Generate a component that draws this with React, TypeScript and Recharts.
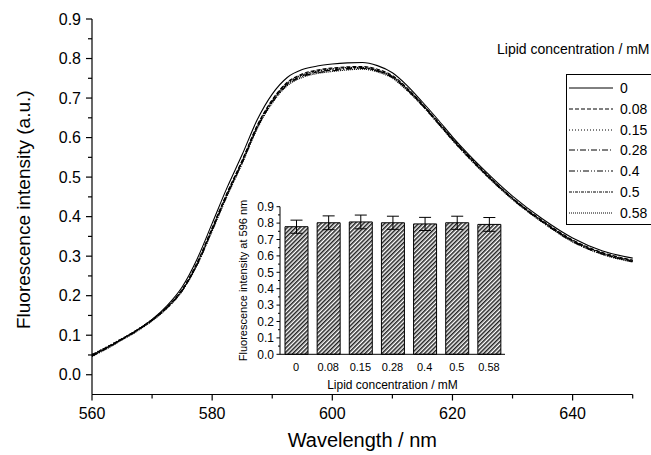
import React from 'react';
import { LineChart, Line, XAxis, YAxis, BarChart, Bar, ErrorBar, Legend, Label } from 'recharts';

// ---------- data ----------
const wavelengths = [560, 562.5, 565, 567.5, 570, 572.5, 575, 577.5, 580, 582.5, 585, 587.5, 590, 592.5, 595, 597.5, 600, 602.5, 605, 607.5, 610, 612.5, 615, 617.5, 620, 625, 630, 635, 640, 645, 650];
const conc0 = [0.048, 0.068, 0.09, 0.113, 0.14, 0.175, 0.222, 0.293, 0.383, 0.474, 0.557, 0.645, 0.71, 0.752, 0.772, 0.781, 0.786, 0.789, 0.79, 0.782, 0.764, 0.731, 0.69, 0.647, 0.602, 0.522, 0.452, 0.394, 0.346, 0.313, 0.295];
const conc008 = [0.05, 0.07, 0.091, 0.113, 0.139, 0.172, 0.216, 0.284, 0.372, 0.461, 0.543, 0.631, 0.696, 0.74, 0.761, 0.771, 0.776, 0.779, 0.78, 0.773, 0.757, 0.725, 0.685, 0.642, 0.598, 0.518, 0.447, 0.39, 0.341, 0.309, 0.29];
const conc015 = [0.052, 0.071, 0.092, 0.114, 0.14, 0.171, 0.214, 0.281, 0.369, 0.458, 0.54, 0.628, 0.693, 0.737, 0.758, 0.768, 0.773, 0.777, 0.778, 0.771, 0.755, 0.723, 0.684, 0.64, 0.596, 0.516, 0.446, 0.388, 0.339, 0.307, 0.288];
const conc028 = [0.047, 0.067, 0.089, 0.111, 0.137, 0.169, 0.212, 0.279, 0.367, 0.456, 0.538, 0.626, 0.691, 0.735, 0.756, 0.766, 0.771, 0.775, 0.776, 0.769, 0.753, 0.721, 0.682, 0.639, 0.595, 0.515, 0.445, 0.387, 0.338, 0.306, 0.287];
const conc04 = [0.049, 0.069, 0.09, 0.112, 0.138, 0.17, 0.213, 0.278, 0.365, 0.454, 0.536, 0.624, 0.689, 0.733, 0.754, 0.764, 0.769, 0.773, 0.775, 0.768, 0.752, 0.72, 0.681, 0.638, 0.594, 0.514, 0.444, 0.386, 0.337, 0.305, 0.286];
const conc05 = [0.051, 0.07, 0.091, 0.113, 0.139, 0.171, 0.215, 0.282, 0.37, 0.459, 0.541, 0.629, 0.694, 0.738, 0.759, 0.769, 0.774, 0.777, 0.777, 0.77, 0.754, 0.722, 0.683, 0.64, 0.597, 0.517, 0.446, 0.388, 0.34, 0.308, 0.289];
const conc058 = [0.046, 0.066, 0.088, 0.11, 0.136, 0.168, 0.211, 0.277, 0.363, 0.452, 0.534, 0.622, 0.687, 0.731, 0.752, 0.762, 0.767, 0.771, 0.773, 0.766, 0.75, 0.718, 0.68, 0.637, 0.593, 0.513, 0.443, 0.385, 0.336, 0.304, 0.285];

const seriesNames = ['0', '0.08', '0.15', '0.28', '0.4', '0.5', '0.58'];
const seriesValues = [conc0, conc008, conc015, conc028, conc04, conc05, conc058];

const xTicks = [560, 570, 580, 590, 600, 610, 620, 630, 640, 650];
const yTicks = [0, 0.05, 0.1, 0.15, 0.2, 0.25, 0.3, 0.35, 0.4, 0.45, 0.5, 0.55, 0.6, 0.65, 0.7, 0.75, 0.8, 0.85, 0.9];

const insetCategories = ['0', '0.08', '0.15', '0.28', '0.4', '0.5', '0.58'];
const insetValues = [0.778, 0.802, 0.807, 0.802, 0.795, 0.802, 0.792];
const insetErrors = [0.04, 0.042, 0.042, 0.04, 0.04, 0.04, 0.042];
const insetYTicks = [0, 0.05, 0.1, 0.15, 0.2, 0.25, 0.3, 0.35, 0.4, 0.45, 0.5, 0.55, 0.6, 0.65, 0.7, 0.75, 0.8, 0.85, 0.9];

// ---------- styles ----------
const dashStyles = ['', '4 2', '1 2', '6 2 1 2', '6 2 1 2 1 2', '3 1 1 1', '1 1'];
const FONT = '"Liberation Sans", Arial, sans-serif';

const lineData = wavelengths.map((wl, i) => {
  const row: any = { wl };
  seriesValues.forEach((arr, k) => { row['s' + k] = arr[i]; });
  return row;
});

const insetData = insetCategories.map((c, i) => ({ c, v: insetValues[i], err: insetErrors[i] }));

const isMajorY = (v: number) => Math.round(v * 100) % 10 === 0;

const MainXTick = (props: any) => {
  const { x, y, payload } = props;
  const v = payload.value;
  const major = v % 20 === 0;
  return (
    <g>
      <line x1={x} y1={y} x2={x} y2={y + (major ? 6 : 4)} stroke="#000" strokeWidth={1.2} />
      {major && v !== 650 ? (
        <text x={x} y={y + 24} textAnchor="middle" fontSize={16} fontFamily={FONT} fill="#000">{v}</text>
      ) : null}
    </g>
  );
};

const MainYTick = (props: any) => {
  const { x, y, payload } = props;
  const v = payload.value;
  const major = isMajorY(v);
  return (
    <g>
      <line x1={x} y1={y} x2={x - (major ? 6 : 4)} y2={y} stroke="#000" strokeWidth={1.2} />
      {major ? (
        <text x={x - 11} y={y} dy="0.36em" textAnchor="end" fontSize={16} fontFamily={FONT} fill="#000">{v.toFixed(1)}</text>
      ) : null}
    </g>
  );
};

const InsetXTick = (props: any) => {
  const { x, y, payload } = props;
  return (
    <text x={x} y={y + 17} textAnchor="middle" fontSize={11} fontFamily={FONT} fill="#000">{payload.value}</text>
  );
};

const InsetYTick = (props: any) => {
  const { x, y, payload } = props;
  const v = payload.value;
  const major = isMajorY(v);
  return (
    <g>
      <line x1={x} y1={y} x2={x - (major ? 3.5 : 2)} y2={y} stroke="#000" strokeWidth={1} />
      {major ? (
        <text x={x - 6} y={y} dy="0.36em" textAnchor="end" fontSize={12} fontFamily={FONT} fill="#000">{v.toFixed(1)}</text>
      ) : null}
    </g>
  );
};

const renderLegend = () => (
  <div style={{ position: 'relative', width: 200, height: 200, fontFamily: FONT, color: '#000' }}>
    <div style={{ position: 'absolute', left: 0, top: 3, fontSize: 14, whiteSpace: 'nowrap', lineHeight: '16px' }}>
      Lipid concentration / mM
    </div>
    <div style={{ position: 'absolute', left: 69, top: 36, width: 120, height: 151, border: '1px solid #000', boxSizing: 'border-box', background: '#fff' }}>
      {seriesNames.map((name, k) => (
        <div key={name} style={{ position: 'absolute', left: 0, top: 3 + k * 20.8, height: 20, width: 100 }}>
          <svg width={48} height={20} style={{ position: 'absolute', left: 1, top: 0 }}>
            <line x1={1} y1={10} x2={45} y2={10} stroke="#000" strokeWidth={1} strokeDasharray={dashStyles[k] || undefined} />
          </svg>
          <span style={{ position: 'absolute', left: 53, top: 1, fontSize: 14, lineHeight: '18px' }}>{name}</span>
        </div>
      ))}
    </div>
  </div>
);

export default function App() {
  return (
    <div style={{ position: 'absolute', left: 0, top: 0, width: 651, height: 455, overflow: 'hidden', background: '#fff' }}>
      <svg width={0} height={0} style={{ position: 'absolute' }}>
        <defs>
          <pattern id="hatch" patternUnits="userSpaceOnUse" width={3} height={3} patternTransform="rotate(45)">
            <rect width={3} height={3} fill="#fff" />
            <line x1={0.75} y1={0} x2={0.75} y2={3} stroke="#222" strokeWidth={1.6} />
          </pattern>
        </defs>
      </svg>
      <LineChart width={651} height={455} data={lineData} margin={{ top: 19, right: 18.3, bottom: 0, left: 0 }}>
        <XAxis
          type="number"
          dataKey="wl"
          domain={[560, 650]}
          ticks={xTicks}
          interval={0}
          tickLine={false}
          tickSize={0}
          tickMargin={0}
          height={60.5}
          axisLine={{ stroke: '#000', strokeWidth: 1.2 }}
          tick={(p: any) => <MainXTick {...p} />}
        >
          <Label
            content={(p: any) => {
              const vb = p.viewBox || { x: 92, y: 394.5, width: 541 };
              return (
                <text x={vb.x + vb.width / 2} y={vb.y + 52} textAnchor="middle" fontSize={20} fontFamily={FONT} fill="#000">
                  Wavelength / nm
                </text>
              );
            }}
          />
        </XAxis>
        <YAxis
          type="number"
          domain={[-0.05, 0.9]}
          ticks={yTicks}
          interval={0}
          allowDataOverflow
          tickLine={false}
          tickSize={0}
          tickMargin={0}
          width={92}
          axisLine={{ stroke: '#000', strokeWidth: 1.2 }}
          tick={(p: any) => <MainYTick {...p} />}
        >
          <Label
            content={(p: any) => {
              const vb = p.viewBox || { x: 0, y: 19, height: 375 };
              const cx = vb.x + 30;
              const cy = vb.y + vb.height / 2 + 3;
              return (
                <text x={cx} y={cy} transform={`rotate(-90 ${cx} ${cy})`} textAnchor="middle" fontSize={19} fontFamily={FONT} fill="#000">
                  Fluorescence intensity (a.u.)
                </text>
              );
            }}
          />
        </YAxis>
        <Legend
          layout="horizontal"
          verticalAlign="middle"
          align="center"
          content={renderLegend}
          wrapperStyle={{ position: 'absolute', left: 497, top: 38, width: 200, height: 200 }}
        />
        {seriesNames.map((name, k) => (
          <Line
            key={name}
            name={name}
            dataKey={'s' + k}
            type="monotone"
            stroke="#000"
            strokeWidth={1.1}
            strokeDasharray={dashStyles[k] || undefined}
            dot={false}
            activeDot={false}
            isAnimationActive={false}
          />
        ))}
      </LineChart>
      <div style={{ position: 'absolute', left: 200, top: 195 }}>
        <BarChart width={320} height={205} data={insetData} margin={{ top: 11.7, right: 15, bottom: 0, left: 0 }}>
          <XAxis
            dataKey="c"
            height={45.7}
            interval={0}
            tickLine={false}
            tickSize={0}
            tickMargin={0}
            axisLine={{ stroke: '#000', strokeWidth: 1 }}
            tick={(p: any) => <InsetXTick {...p} />}
          >
            <Label
              content={(p: any) => {
                const vb = p.viewBox || { x: 80, y: 159.3, width: 225 };
                return (
                  <text x={vb.x + vb.width / 2} y={vb.y + 35} textAnchor="middle" fontSize={12} fontFamily={FONT} fill="#000">
                    Lipid concentration / mM
                  </text>
                );
              }}
            />
          </XAxis>
          <YAxis
            type="number"
            domain={[0, 0.9]}
            ticks={insetYTicks}
            interval={0}
            tickLine={false}
            tickSize={0}
            tickMargin={0}
            width={80}
            axisLine={{ stroke: '#000', strokeWidth: 1 }}
            tick={(p: any) => <InsetYTick {...p} />}
          >
            <Label
              content={(p: any) => {
                const vb = p.viewBox || { x: 0, y: 11.7, height: 147.6 };
                const cx = vb.x + 47;
                const cy = vb.y + vb.height / 2;
                return (
                  <text x={cx} y={cy} transform={`rotate(-90 ${cx} ${cy})`} textAnchor="middle" fontSize={11} fontFamily={FONT} fill="#000">
                    Fluorescence intensity at 596 nm
                  </text>
                );
              }}
            />
          </YAxis>
          <Bar dataKey="v" barSize={23} fill="url(#hatch)" stroke="#000" strokeWidth={1} isAnimationActive={false}>
            <ErrorBar dataKey="err" width={6} stroke="#000" strokeWidth={1} direction="y" />
          </Bar>
        </BarChart>
      </div>
    </div>
  );
}
